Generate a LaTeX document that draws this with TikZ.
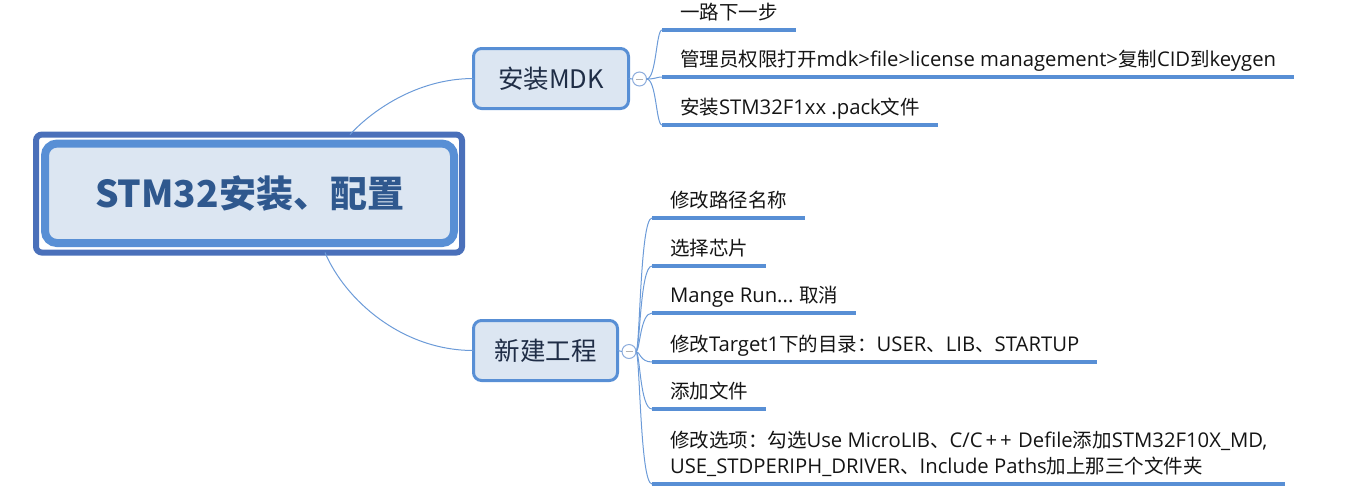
\documentclass[tikz,border=0pt]{standalone}
\usepackage{fontspec}
\setmainfont{Noto Sans CJK SC}
\newfontfamily\latfont{Open Sans}[Scale=1.04]
\newcommand{\ltn}[1]{{\latfont #1}}
\definecolor{outerblue}{RGB}{74,112,186}
\definecolor{innerblue}{RGB}{88,143,213}
\definecolor{fillblue}{RGB}{220,230,242}
\definecolor{roottext}{RGB}{47,88,142}
\definecolor{subtext}{RGB}{31,45,70}
\definecolor{connblue}{RGB}{108,155,216}
\definecolor{circblue}{RGB}{140,172,220}
\begin{document}
\begin{tikzpicture}[x=1pt,y=-1pt,
  rootbox/.style={draw=innerblue,fill=fillblue,line width=8pt,rounded corners=12pt,
    minimum width=409pt,minimum height=99.5pt,outer sep=0pt,inner sep=0pt,
    text=roottext,font=\fontsize{37}{40}\selectfont\bfseries},
  subbox/.style={draw=innerblue,fill=fillblue,line width=3pt,rounded corners=8pt,
    minimum height=60pt,outer sep=0pt,inner sep=0pt,text=subtext,
    font=\fontsize{25.5}{28}\selectfont},
  foldmark/.style={circle,draw=circblue,fill=white,line width=1pt,minimum size=14pt,
    inner sep=0pt,outer sep=0pt,
    path picture={\draw[gray!60,line width=1pt]
      ([xshift=-3.5pt]path picture bounding box.center) -- ([xshift=3.5pt]path picture bounding box.center);}},
  leaf/.style={anchor=south west,inner xsep=18pt,inner ysep=0pt,text depth=11pt,
    outer sep=0pt,text=black!92,align=left,font=\fontsize{19.5}{26}\selectfont},
  uline/.style={draw=innerblue,line width=4pt},
  conn/.style={draw=connblue,line width=1pt},
  outerframe/.style={draw=outerblue,line width=6pt,rounded corners=6pt}
]
\useasboundingbox (0,0) rectangle (1356,501);

% root
\node[rootbox] (root) at (249.5,193.3) {STM32安装、配置};
\draw[outerframe] ([shift={(-9,-9)}]root.north west) rectangle ([shift={(8,9.5)}]root.south east);

% subtopics
\node[subbox,minimum width=155pt] (s1) at (551,78.5) {安装MDK};
\node[subbox,minimum width=144pt] (s2) at (545.5,350.5) {新建工程};

\node[foldmark] (c1) at (639.5,79) {};
\node[foldmark] (c2) at (629,351.5) {};

% leaves group 1
\node[leaf] (a1) at (662,30) {一路下一步};
\node[leaf] (a2) at (662,77) {管理员权限打开\ltn{mdk>file>license management>}复制\ltn{CID}到\ltn{keygen}};
\node[leaf] (a3) at (662,125) {安装\ltn{STM32F1xx .pack}文件};

% leaves group 2
\node[leaf] (b1) at (652,218) {修改路径名称};
\node[leaf] (b2) at (652,266) {选择芯片};
\node[leaf] (b3) at (652,313) {\ltn{Mange Run...} 取消};
\node[leaf] (b4) at (652,362) {修改\ltn{Target1}下的目录：\ltn{USER}、\ltn{LIB}、\ltn{STARTUP}};
\node[leaf] (b5) at (652,409) {添加文件};
\node[leaf] (b6) at (652,484) {修改选项：勾选\ltn{Use MicroLIB}、\ltn{C/C\kern3pt+\kern3pt+\kern1pt{} Defile}添加\ltn{STM32F10X\_MD,}\\\ltn{USE\_STDPERIPH\_DRIVER}、\ltn{Include Paths}加上那三个文件夹};

% root to subtopics
\draw[conn] ([shift={(100.5,-9)}]root.north) .. controls +(20,-22) and +(-58,0) .. (s1.west);
\draw[conn] ([shift={(75.5,9.5)}]root.south) .. controls +(20,47) and +(-72,0) .. (s2.west);

% subtopic to fold marks
\draw[conn] (s1.east) -- (c1.west);
\draw[conn] (s2.east) -- (c2.west);

% fold marks to leaves
\foreach \l in {a1,a2,a3}{
  \draw[conn] (c1.east) .. controls +(10,0) and +(-6,0) .. (\l.south west);
}
\foreach \l in {b1,b2,b3,b4,b5,b6}{
  \draw[conn] (c2.east) .. controls +(4,0) and +(-12,0) .. (\l.south west);
}

% underlines
\foreach \l in {a1,a2,a3,b1,b2,b3,b4,b5,b6}{
  \draw[uline] (\l.south west) -- (\l.south east);
}
\end{tikzpicture}
\end{document}
